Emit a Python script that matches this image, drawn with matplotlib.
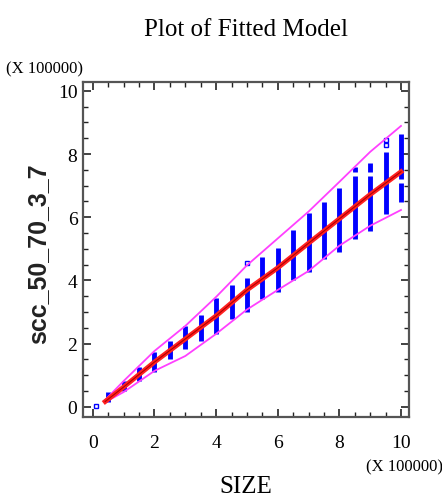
import matplotlib
matplotlib.use("Agg")
import matplotlib.pyplot as plt
from matplotlib.ticker import MultipleLocator

# bars of observations at each SIZE value (x, low, high), in units of 100000
bar_x = [0.5, 1.0, 1.5, 2.0, 2.5, 3.0, 3.5, 4.0, 4.5, 5.0, 5.5, 6.0, 6.5, 7.0, 7.5, 8.0,
         8.5, 8.5, 9.0, 9.0, 9.5, 10.0, 10.0]
bar_lo = [0.16, 0.50, 0.82, 1.10, 1.50, 1.82, 2.08, 2.30, 2.77, 3.00, 3.40, 3.65, 4.03, 4.28, 4.68, 4.90,
          5.32, 7.44, 5.57, 7.44, 6.10, 6.48, 7.20]
bar_hi = [0.47, 0.82, 1.26, 1.73, 2.08, 2.55, 2.92, 3.46, 3.87, 4.08, 4.75, 5.03, 5.60, 6.13, 6.48, 6.92,
          7.31, 7.60, 7.31, 7.72, 8.07, 7.10, 8.65]

# single open points
pt_x = [0.1, 5.0, 9.5, 9.5]
pt_y = [0.03, 4.56, 8.30, 8.45]

# fitted line and limits
fit_x = [0.4, 1, 2, 3, 4, 5, 6, 7, 8, 9, 10]
fit_y = [0.17, 0.63, 1.42, 2.15, 2.88, 3.70, 4.40, 5.18, 5.95, 6.72, 7.44]
upper_y = [0.22, 0.82, 1.77, 2.56, 3.48, 4.48, 5.33, 6.18, 7.12, 8.07, 8.89]
lower_y = [0.15, 0.47, 1.14, 1.61, 2.31, 3.08, 3.70, 4.30, 5.10, 5.73, 6.23]

serif = "Liberation Serif"

fig = plt.figure(figsize=(4.42, 5.02), dpi=100)
ax = fig.add_axes([83 / 442, 1 - 418 / 502, 326 / 442, 335 / 502])

ax.vlines(bar_x, bar_lo, bar_hi, colors="#0000ff", linewidth=3.5, zorder=2)
ax.plot(pt_x, pt_y, "s", markersize=3.5, markerfacecolor="none", markeredgecolor="#0000ff",
        markeredgewidth=1, zorder=3)
ax.plot(fit_x, upper_y, color="#ff40ff", linewidth=1.3, zorder=3)
ax.plot(fit_x, lower_y, color="#ff40ff", linewidth=1.3, zorder=3)
ax.plot(fit_x, fit_y, color="#ff2020", linewidth=3.5, zorder=4)
ax.plot(fit_x, fit_y, color="#b00000", linewidth=0.8, zorder=5)

ax.set_xlim(-0.32, 10.26)
ax.set_ylim(-0.32, 10.28)
ax.xaxis.set_major_locator(MultipleLocator(2))
ax.xaxis.set_minor_locator(MultipleLocator(0.5))
ax.yaxis.set_major_locator(MultipleLocator(2))
ax.yaxis.set_minor_locator(MultipleLocator(0.5))
ax.tick_params(which="both", direction="in", top=True, right=True, color="#222222")
ax.tick_params(which="major", length=6, width=1.2, labelsize=14, pad=4)
ax.tick_params(which="minor", length=3.5, width=1.0)
ax.tick_params(axis="x", which="major", pad=12)
for lab in ax.get_xticklabels() + ax.get_yticklabels():
    lab.set_fontfamily(serif)
for s in ax.spines.values():
    s.set_color("#555555")
    s.set_linewidth(1.6)

fig.text(246 / 442, 1 - 30 / 502, "Plot of Fitted Model", fontsize=18, family=serif,
         ha="center", va="center")
fig.text(246 / 442, 1 - 487 / 502, "SIZE", fontsize=18, family=serif, ha="center", va="center")
fig.text(38 / 442, 1 - 254 / 502, "scc_50_70_3_7", fontsize=18, family="Liberation Sans",
         weight="bold", rotation=90, ha="center", va="center", color="#222222")
fig.text(45 / 442, 1 - 69 / 502, "(X 100000)", fontsize=12, family=serif, ha="center", va="center")
fig.text(405 / 442, 1 - 467 / 502, "(X 100000)", fontsize=12, family=serif, ha="center", va="center")

fig.savefig("out.png", dpi=100)
